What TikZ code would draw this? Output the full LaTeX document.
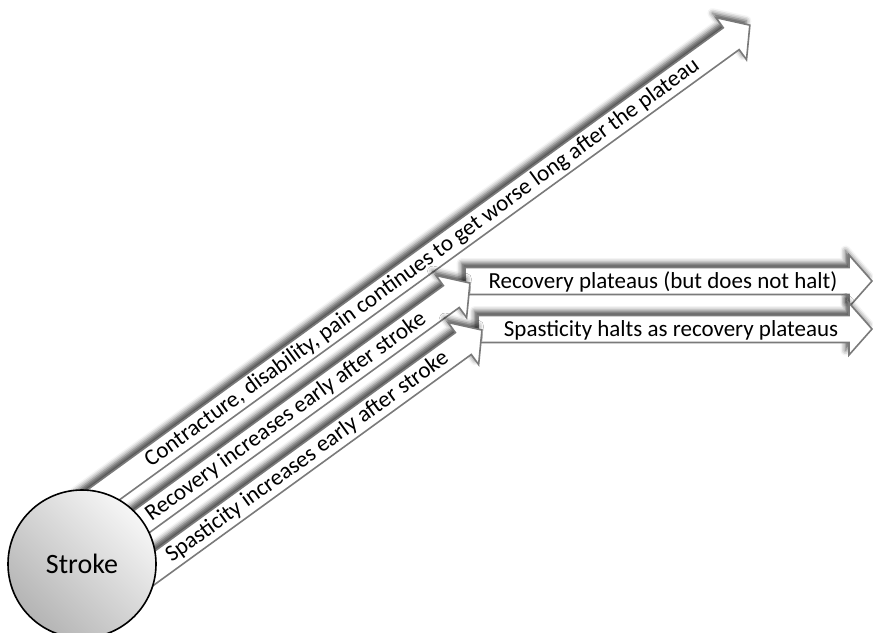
\documentclass[tikz,border=0pt]{standalone}
\usepackage{fontspec}
\setmainfont{Carlito}
\usetikzlibrary{shadows.blur}

\definecolor{edgegray}{HTML}{7A7A7A}
\definecolor{ballhi}{HTML}{F6F6F6}
\definecolor{balllo}{HTML}{B4B4B4}

% Block arrow: start point, angle, length; shaft 27 wide, head 52 wide and 23 long
\newcommand\blockarrow[3]{%
  \path[arrowbody, shift={#1}, rotate=#2]
    (0,-13.5) -- ({#3-23},-13.5) -- ({#3-23},-26) -- (#3,0)
    -- ({#3-23},26) -- ({#3-23},13.5) -- (0,13.5) -- cycle;}

\tikzset{
  arrowbody/.style={draw=edgegray, line width=1.6pt, fill=white, line join=miter,
    blur shadow={shadow xshift=-3.5pt, shadow yshift=4.5pt, shadow blur radius=5pt,
      shadow opacity=70}},
  arrowtext/.style={inner sep=0pt, anchor=center, text=black,
    font=\fontsize{23}{27}\selectfont},
}

\begin{document}
\begin{tikzpicture}[x=1pt, y=-1pt]
  \useasboundingbox (0,0) rectangle (873,632);

  % later stages: horizontal arrows
  \blockarrow{(465,281)}{0}{407}
  \node[arrowtext] (plateau) at (663,282) {Recovery plateaus (but does not halt)};
  \blockarrow{(478,329)}{0}{394}
  \node[arrowtext] (halt) at (671,330) {Spasticity halts as recovery plateaus};

  % early stages: diagonal arrows leaving the stroke
  \blockarrow{(56.5,528.9)}{36}{857}
  \begin{scope}[shift={(56.5,528.9)}, rotate=36]
    \node[arrowtext, rotate=36] (contract) at (452,0)
      {Contracture, disability, pain continues to get worse long after the plateau};
  \end{scope}

  \blockarrow{(82.4,564.6)}{36}{479}
  \begin{scope}[shift={(82.4,564.6)}, rotate=36]
    \node[arrowtext, rotate=36] (recinc) at (251.5,0)
      {Recovery increases early after stroke};
  \end{scope}

  \blockarrow{(109,601)}{36}{461}
  \begin{scope}[shift={(109,601)}, rotate=36]
    \node[arrowtext, rotate=36] (spasinc) at (245,0)
      {Spasticity increases early after stroke};
  \end{scope}

  % the stroke itself
  \node[circle, minimum size=148pt, inner sep=0pt, draw=black, line width=1.6pt,
        shading=axis, top color=ballhi, bottom color=balllo, shading angle=-45,
        font=\fontsize{28}{32}\selectfont] (stroke) at (82,564) {Stroke};
\end{tikzpicture}
\end{document}
